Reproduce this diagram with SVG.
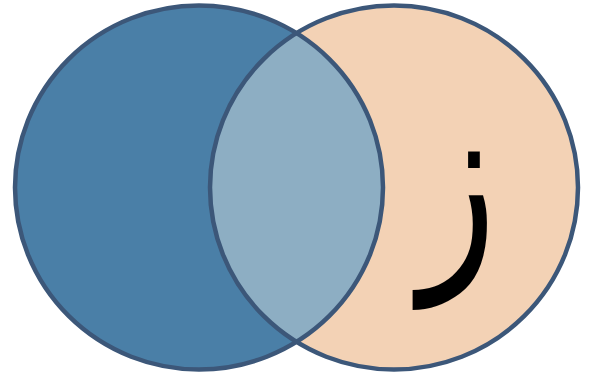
<svg xmlns="http://www.w3.org/2000/svg" width="592" height="381" viewBox="0 0 592 381">
<style>
.c{stroke:#3c5779;stroke-width:4.5}
.t{font-family:"DejaVu Sans",sans-serif;fill:#000}
</style>
<defs>
<clipPath id="clipL"><ellipse cx="199" cy="187.5" rx="184" ry="182"/></clipPath>
</defs>
<rect width="592" height="381" fill="#ffffff"/>
<g id="right">
<ellipse cx="394" cy="187.5" rx="184" ry="182" fill="#f3d2b5"/>
</g>
<g id="left">
<ellipse cx="199" cy="187.5" rx="184" ry="182" fill="#4a7fa7"/>
</g>
<g id="intersection">
<ellipse cx="394" cy="187.5" rx="184" ry="182" fill="#8daec3" clip-path="url(#clipL)"/>
</g>
<g id="outlines" fill="none">
<ellipse class="c" cx="199" cy="187.5" rx="184" ry="182"/>
<ellipse class="c" cx="394" cy="187.5" rx="184" ry="182"/>
</g>
<g id="label">
<text class="t" transform="translate(458 255) scale(0.8 1.12)" x="0" y="0" font-size="200" text-anchor="middle">ز</text>
</g>
</svg>
